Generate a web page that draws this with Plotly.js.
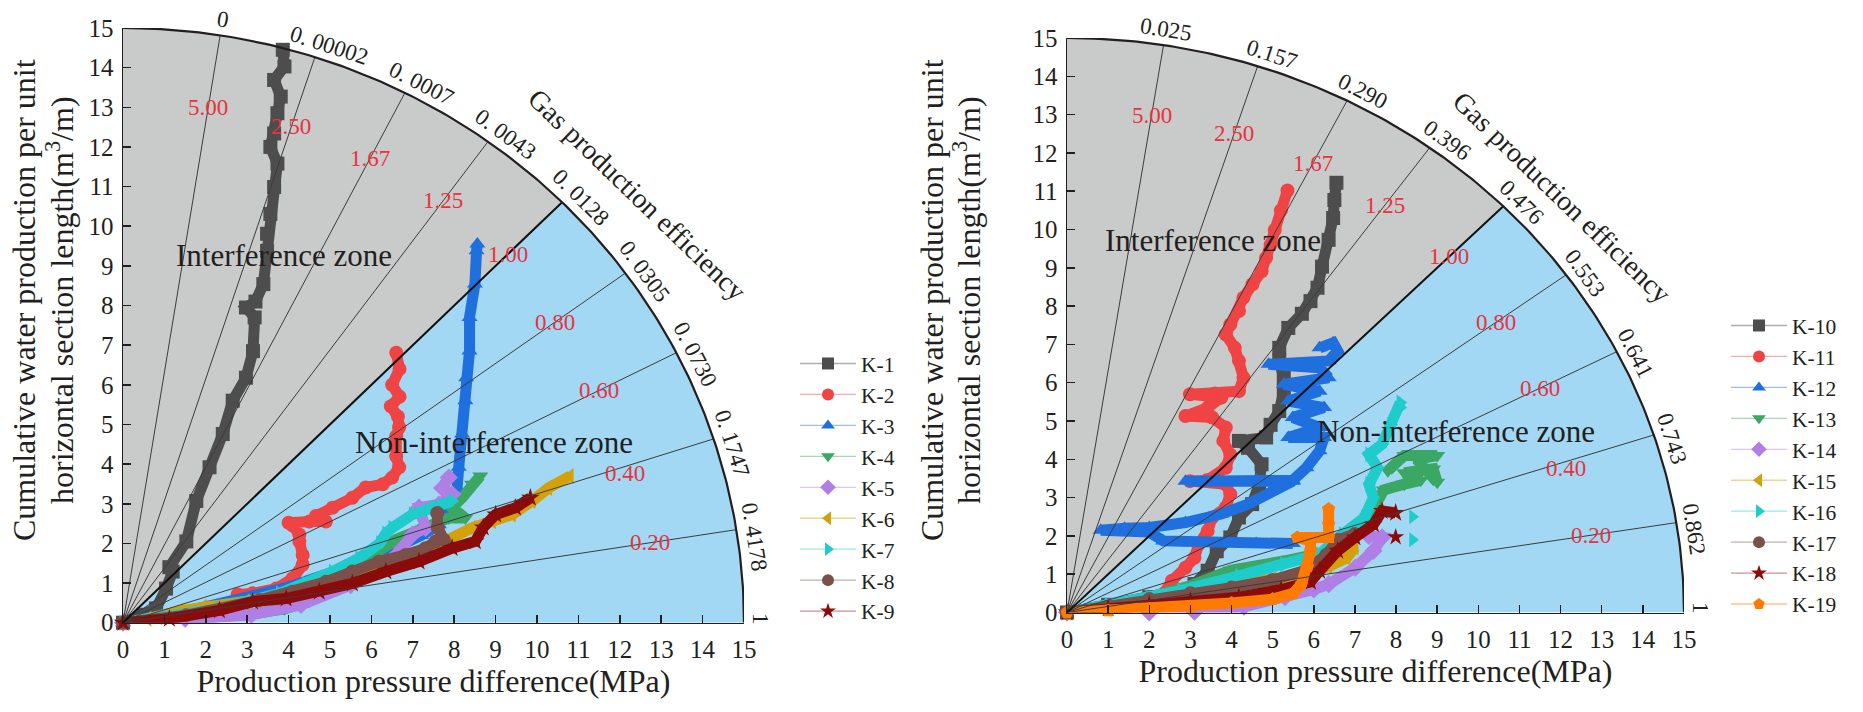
<!DOCTYPE html>
<html><head><meta charset="utf-8">
<script src="https://cdn.plot.ly/plotly-3.0.1.min.js"></script>
<style>html,body{margin:0;padding:0;background:#fff}#chart{width:1863px;height:712px}</style>
</head><body><div id="chart"></div>
<script>
// ---------- fan template ----------
const fanAngles = [81, 72, 63, 54, 45, 36, 27, 18, 9];
const slopeLabels = ['5.00', '2.50', '1.67', '1.25', '1.00', '0.80', '0.60', '0.40', '0.20'];
const arcAngles = [81, 72, 63, 54, 45, 36, 27, 18, 9, 0];
const leftArcLabels = ['0', '0. 00002', '0. 0007', '0. 0043', '0. 0128', '0. 0305', '0. 0730', '0. 1747', '0. 4178', '1'];
const rightArcLabels = ['0.025', '0.157', '0.290', '0.396', '0.476', '0.553', '0.641', '0.743', '0.862', '1'];
const tickVals = [0,1,2,3,4,5,6,7,8,9,10,11,12,13,14,15];

// ---------- left chart wells ----------
const leftNames = ['K-1','K-2','K-3','K-4','K-5','K-6','K-7','K-8','K-9'];
const k1x = [0,0.5,0.8,1.04,1.2,1.12,1.53,1.77,2.09,2.41,2.65,2.97,3.14,3.18,2.97,3.2,3.39,3.48,3.48,3.56,3.65,3.73,3.56,3.65,3.73,3.81,3.65,3.9,3.86];
const k1y = [0,0.2,0.36,0.86,1.29,1.4,2.05,3.07,3.92,4.76,5.6,6.18,6.85,7.7,7.95,8.1,8.54,9.38,9.81,10.31,10.99,11.58,12.0,12.34,12.85,13.27,13.69,14.03,14.45];
const k2x = [2.77,3.13,3.7,4.1,4.34,4.34,4.26,4.26,4.1,4.0,4.5,4.9,4.66,5.06,5.54,5.86,6.27,6.5,6.67,6.6,6.6,6.67,6.64,6.47,6.68,6.5,6.68,6.6];
const k2y = [0.71,0.74,0.86,1.12,1.46,1.71,2.05,2.22,2.45,2.52,2.55,2.55,2.69,2.9,3.15,3.41,3.49,3.66,3.92,4.2,4.7,4.93,5.2,5.46,5.7,6.0,6.4,6.81];
const k3x = [0,2,4,6,7.2,7.63,7.95,8.07,8.11,8.19,8.27,8.29,8.37,8.37,8.5,8.54,8.56];
const k3y = [0,0.4,0.9,1.6,2.2,2.47,3.15,3.4,3.92,4.76,5.6,6.18,6.85,7.7,8.54,9.38,9.55];
const k4x = [0,1.5,3,3.9,4.5,5.3,6.02,6.6,7.3,7.87,8.27,7.95,8.19,8.43,8.63];
const k4y = [0,0.1,0.2,0.35,0.55,1.0,1.7,2.1,2.4,2.64,2.64,2.9,3.15,3.49,3.7];
const k5x = [0,1.5,3.1,4.3,5.5,6.3,6.75,6.99,7.31,7.15,7.63,7.95,7.71,7.87];
const k5y = [0,0.1,0.2,0.45,0.95,1.45,1.88,2.22,2.39,2.9,2.98,3.24,3.4,3.66];
const k6x = [0,0.6,1.37,1.93,2.97,3.94,4.74,5.54,6.5,7.31,7.95,8.43,8.92,9.4,9.88,10.28,10.8];
const k6y = [0,0.1,0.3,0.4,0.53,0.69,0.95,1.2,1.46,1.71,2.14,2.39,2.56,2.73,3.07,3.4,3.7];
const k7x = [0,1,2.33,3.78,4.42,5.06,5.7,6.2,6.35,6.5,6.99,7.5,7.95];
const k7y = [0,0.14,0.36,0.74,0.99,1.29,1.63,2.0,2.25,2.39,2.73,2.9,3.07];
const k8x = [0,1.53,3.29,4.1,4.9,5.54,6.18,6.83,7.31,7.55,7.75,7.6,7.59];
const k8y = [0,0.19,0.57,0.78,1.03,1.29,1.54,1.71,1.88,2.05,2.09,2.4,2.77];
const k9x = [0,1.12,2.33,3.13,3.94,4.74,5.54,6.35,7.15,7.95,8.51,8.7,9.0,9.48,9.84];
const k9y = [0,0.1,0.31,0.53,0.61,0.78,0.99,1.29,1.54,1.88,2.05,2.4,2.73,2.9,3.15];

// ---------- right chart wells ----------
const rightNames = ['K-10','K-11','K-12','K-13','K-14','K-15','K-16','K-17','K-18','K-19'];
const k10x = [0,1.0,2.0,2.77,3.1,3.42,3.64,3.97,4.18,4.5,4.67,4.73,4.4,4.18,4.84,4.95,5.16,5.27,5.27,5.16,5.16,5.38,5.71,5.92,6.09,6.2,6.36,6.47,6.5,6.55];
const k10y = [0,0.2,0.4,0.57,0.74,1.09,1.6,1.96,2.48,2.83,3.35,3.87,4.3,4.48,4.57,4.9,5.26,5.78,6.13,6.57,6.91,7.43,7.8,8.13,8.48,9.03,9.73,10.3,10.77,11.22];
const k11x = [2.34,2.55,2.88,3.1,3.2,3.42,3.53,3.86,3.97,3.86,2.99,3.4,3.86,3.97,3.8,3.86,3.53,2.88,3.42,3.75,2.99,3.6,4.18,4.29,4.18,4.08,3.86,3.97,4.18,4.29,4.51,4.73,4.84,4.95,5.05,5.2,5.36];
const k11y = [0.48,0.83,1.17,1.43,1.78,2.13,2.48,2.74,3.09,3.35,3.43,3.45,3.78,4.12,4.48,4.83,5.09,5.13,5.35,5.61,5.7,5.72,5.78,6.13,6.57,6.91,7.26,7.52,7.87,8.22,8.57,8.91,9.26,9.6,9.99,10.5,11.02];
const k12x = [5.49,4.6,3.8,3.0,2.34,2.0,1.4,0.82,1.4,2.0,2.88,3.75,4.4,4.95,5.49,4.6,3.7,2.88,3.7,4.6,5.49,5.82,6.14,6.25,5.38,6.14,5.49,6.25,5.38,6.14,5.27,6.36,6.14,4.9,6.36,6.58,6.47,6.14];
const k12y = [1.8,1.8,1.8,1.82,1.87,2.1,2.15,2.15,2.2,2.22,2.35,2.57,2.83,3.17,3.43,3.43,3.43,3.43,3.45,3.45,3.45,3.78,4.22,4.57,4.57,4.83,5.09,5.35,5.52,5.78,5.96,6.13,6.39,6.48,6.57,6.83,7.04,6.91];
const k13x = [0,1,2,3,3.97,5.3,6.4,6.9,7.3,7.6,7.7,8.2,8.6,8.2,8.9,9.0,8.5,9.0,8.2,7.8];
const k13y = [0,0.2,0.4,0.7,1.1,1.35,1.6,2.0,2.5,3.0,3.2,3.35,3.45,3.65,3.75,3.4,4.0,4.1,4.1,3.7];
const k14x = [0,2,3.1,4.3,5.3,6.0,6.36,7.01,7.45,7.66,7.34];
const k14y = [0,0,0.02,0.15,0.4,0.6,0.74,1.17,1.61,1.96,2.0];
const k15x = [0,1,2,3,4.3,5.0,5.6,6.36,6.8,7.0];
const k15y = [0,0.1,0.25,0.45,0.8,0.87,0.95,1.2,1.43,1.7];
const k16x = [0,1,2,2.77,4.18,5.27,6.14,6.7,7.23,7.45,7.34,7.55,7.34,7.66,7.88,8.1,8.1];
const k16y = [0,0.2,0.38,0.57,0.96,1.26,1.52,2.04,2.48,3.0,3.35,3.78,4.13,4.39,4.9,5.35,5.48];
const k16ox = [8.4, 8.4];
const k16oy = [1.9, 2.5];
const k17x = [0,1,2,3,4,5,5.8,6.3,6.6,7.0];
const k17y = [0,0.15,0.35,0.5,0.65,0.85,1.1,1.5,1.9,2.05];
const k18x = [0,1,2,3,4.18,5.2,5.92,6.14,6.58,7.0,7.45,7.66,7.99];
const k18y = [0,0.1,0.2,0.3,0.4,0.6,0.8,1.09,1.61,1.96,2.3,2.65,2.6];
const k18ox = [7.99];
const k18oy = [1.97];
const k19x = [0,1,2,3,4,5,5.5,5.7,5.85,5.92,5.92,5.6,6.36,6.36,6.36];
const k19y = [0,0.05,0.1,0.15,0.25,0.35,0.5,0.74,1.2,1.6,1.87,1.96,1.96,2.3,2.7];

const colors = ['#4d4d4d','#f04444','#1f6fdf','#3aa864','#b07fe6','#d4a10a','#1fcccc','#7a5048','#8b0a0a','#ff7a00'];
const symbols = ['square','circle','triangle-up','triangle-down','diamond','triangle-left','triangle-right','circle','star','pentagon'];

const leftX = [k1x,k2x,k3x,k4x,k5x,k6x,k7x,k8x,k9x];
const leftY = [k1y,k2y,k3y,k4y,k5y,k6y,k7y,k8y,k9y];
const rightX = [k10x,k11x,k12x,k13x,k14x,k15x,k16x,k17x,k18x,k19x];
const rightY = [k10y,k11y,k12y,k13y,k14y,k15y,k16y,k17y,k18y,k19y];

// ---------- build ----------
const W = 1863, H = 712;
const R = 15;
const FONT = '"Liberation Serif", "Times New Roman", serif';
const TXT = '#231f20';
const rad = d => d * Math.PI / 180;
const DOM = {
  x:  [123 / W, 744 / W],  y:  [1 - 622.7 / H, 1 - 28 / H],
  x2: [1067 / W, 1684 / W], y2: [1 - 612.5 / H, 1 - 38 / H]
};
function toPaper(xa, ya, x, y) {
  const dx = DOM[xa], dy = DOM[ya];
  return [dx[0] + (dx[1] - dx[0]) * x / 15, dy[0] + (dy[1] - dy[0]) * y / 15];
}
function arc(a0, a1, n) {
  const xs = [], ys = [];
  for (let i = 0; i <= n; i++) {
    const a = rad(a0 + (a1 - a0) * i / n);
    xs.push(R * Math.cos(a)); ys.push(R * Math.sin(a));
  }
  return [xs, ys];
}
function hexA(h, a) {
  const r = parseInt(h.slice(1,3),16), g = parseInt(h.slice(3,5),16), b = parseInt(h.slice(5,7),16);
  return `rgba(${r},${g},${b},${a})`;
}

const traces = [];
const annotations = [];

function addFan(xa, ya) {
  const [gx, gy] = arc(45, 90, 90);
  traces.push({x:[0,...gx,0], y:[0,...gy,0], xaxis:xa, yaxis:ya, mode:'lines', fill:'toself',
    fillcolor:'#c9caca', line:{width:0}, hoverinfo:'skip', showlegend:false});
  const [bx, by] = arc(0, 45, 90);
  traces.push({x:[0,...bx,0], y:[0,...by,0], xaxis:xa, yaxis:ya, mode:'lines', fill:'toself',
    fillcolor:'#a2d8f3', line:{width:0}, hoverinfo:'skip', showlegend:false});
}
function addFanLines(xa, ya) {
  const lx = [], ly = [];
  fanAngles.forEach(a => { if (a !== 45) { lx.push(0, R*Math.cos(rad(a)), null); ly.push(0, R*Math.sin(rad(a)), null); } });
  traces.push({x:lx, y:ly, xaxis:xa, yaxis:ya, mode:'lines', line:{color:'#3c3c3c', width:1},
    hoverinfo:'skip', showlegend:false, cliponaxis:false});
  traces.push({x:[0, R*Math.cos(rad(45))], y:[0, R*Math.sin(rad(45))], xaxis:xa, yaxis:ya, mode:'lines',
    line:{color:'#111', width:2}, hoverinfo:'skip', showlegend:false, cliponaxis:false});
  const [ax, ay] = arc(0, 90, 180);
  traces.push({x:ax, y:ay, xaxis:xa, yaxis:ya, mode:'lines', line:{color:TXT, width:2.2},
    hoverinfo:'skip', showlegend:false, cliponaxis:false});
}
function addWells(xs, ys, names, xa, ya) {
  xs.forEach((x, i) => {
    traces.push({x:x, y:ys[i], xaxis:xa, yaxis:ya, mode:'lines+markers', legendgroup:names[i],
      line:{color:colors[i], width:11}, marker:{color:colors[i], symbol:symbols[i], size:14},
      showlegend:false, hoverinfo:'skip', cliponaxis:false});
  });
}
function addLegendItems(names, xa, ya, legendId) {
  names.forEach((nm, i) => {
    traces.push({x:[null], y:[null], xaxis:xa, yaxis:ya, mode:'lines+markers', name:nm, legend:legendId,
      legendgroup:nm, line:{color:hexA(colors[i],0.45), width:1.3},
      marker:{color:colors[i], symbol:symbols[i], size:12}, showlegend:true});
  });
}
function addFanText(xa, ya, arcLabels, zoneInt, zoneNon, gasPos) {
  const ann = (x, y, text, font, extra) => {
    const [px, py] = toPaper(xa, ya, x, y);
    annotations.push(Object.assign({xref:'paper', yref:'paper', x:px, y:py, text:text, showarrow:false,
      xanchor:'center', yanchor:'middle', font:font}, extra || {}));
  };
  fanAngles.forEach((a, i) => {
    let r = a >= 45 ? 13.15 : 12.9, c = a;
    if (a === 18) { r = 12.7; c = 17.2; }
    ann(r*Math.cos(rad(c)), r*Math.sin(rad(c)), slopeLabels[i], {family:FONT, size:23, color:'#e8333d'});
  });
  arcAngles.forEach((a, i) => {
    const c = a === 0 ? 0.4 : (a === 81 ? a : a - 0.9);
    const r = 15.4;
    ann(r*Math.cos(rad(c)), r*Math.sin(rad(c)), arcLabels[i], {family:FONT, size:23, color:TXT}, {textangle:90 - a});
  });
  ann(gasPos[0]*Math.cos(rad(gasPos[1])), gasPos[0]*Math.sin(rad(gasPos[1])), 'Gas production efficiency',
    {family:FONT, size:28, color:TXT}, {textangle:44});
  ann(zoneInt[0], zoneInt[1], 'Interference zone', {family:FONT, size:31, color:TXT});
  ann(zoneNon[0], zoneNon[1], 'Non-interference zone', {family:FONT, size:31, color:TXT});
}
function addYTitle(xLine1, xLine2, yc) {
  annotations.push({xref:'paper', yref:'paper', x:xLine1 / W, y:1 - yc / H, text:'Cumulative water production per unit',
    showarrow:false, textangle:-90, xanchor:'center', yanchor:'middle', font:{family:FONT, size:32, color:TXT}});
  annotations.push({xref:'paper', yref:'paper', x:xLine2 / W, y:1 - yc / H, text:'horizontal section length(m<sup>3</sup>/m)',
    showarrow:false, textangle:-90, xanchor:'center', yanchor:'middle', font:{family:FONT, size:32, color:TXT}});
}

addFan('x', 'y');
addFan('x2', 'y2');
addWells(leftX, leftY, leftNames, 'x', 'y');
addWells(rightX, rightY, rightNames, 'x2', 'y2');
traces.push({x:k16ox, y:k16oy, xaxis:'x2', yaxis:'y2', mode:'markers', marker:{color:colors[6], symbol:symbols[6], size:13},
  showlegend:false, hoverinfo:'skip'});
traces.push({x:k18ox, y:k18oy, xaxis:'x2', yaxis:'y2', mode:'markers', marker:{color:colors[8], symbol:symbols[8], size:13},
  showlegend:false, hoverinfo:'skip'});
addFanLines('x', 'y');
addFanLines('x2', 'y2');
addLegendItems(leftNames, 'x', 'y', 'legend');
addLegendItems(rightNames, 'x2', 'y2', 'legend2');
addFanText('x', 'y', leftArcLabels, [3.9, 9.25], [8.95, 4.55], [16.45, 41]);
addFanText('x2', 'y2', rightArcLabels, [3.55, 9.7], [9.45, 4.72], [16.2, 42]);
addYTitle(24, 60, 300);
addYTitle(932, 967, 300);

function axis(dom, anchor, isX) {
  const a = {domain:dom, range:[0,15], anchor:anchor, fixedrange:true, showgrid:false, zeroline:false,
    showline:true, linecolor:TXT, linewidth:1.5, ticks:'inside', ticklen:8, tickwidth:1.5, tickcolor:TXT,
    tickvals:tickVals, ticktext:tickVals.map(String), tickfont:{family:FONT, size:25, color:TXT},
    automargin:false, ticklabelstandoff: isX ? 4 : 3};
  if (isX) a.title = {text:'Production pressure difference(MPa)', standoff:3, font:{family:FONT, size:32, color:TXT}};
  return a;
}
const layout = {
  width:W, height:H, margin:{l:0, r:0, t:0, b:0}, paper_bgcolor:'#fff', plot_bgcolor:'rgba(0,0,0,0)',
  xaxis: axis(DOM.x, 'y', true),
  yaxis: axis(DOM.y, 'x', false),
  xaxis2: axis(DOM.x2, 'y2', true),
  yaxis2: axis(DOM.y2, 'x2', false),
  legend: {x:795/W, y:1 - 343/H, xanchor:'left', yanchor:'top', bgcolor:'rgba(0,0,0,0)',
    font:{family:FONT, size:21.5, color:TXT}, tracegroupgap:0, itemwidth:56},
  legend2: {x:1726/W, y:1 - 305/H, xanchor:'left', yanchor:'top', bgcolor:'rgba(0,0,0,0)',
    font:{family:FONT, size:21.5, color:TXT}, tracegroupgap:0, itemwidth:56},
  annotations: annotations,
  showlegend: true
};
Plotly.newPlot('chart', traces, layout, {displayModeBar:false, staticPlot:true});
</script>
</body></html>
